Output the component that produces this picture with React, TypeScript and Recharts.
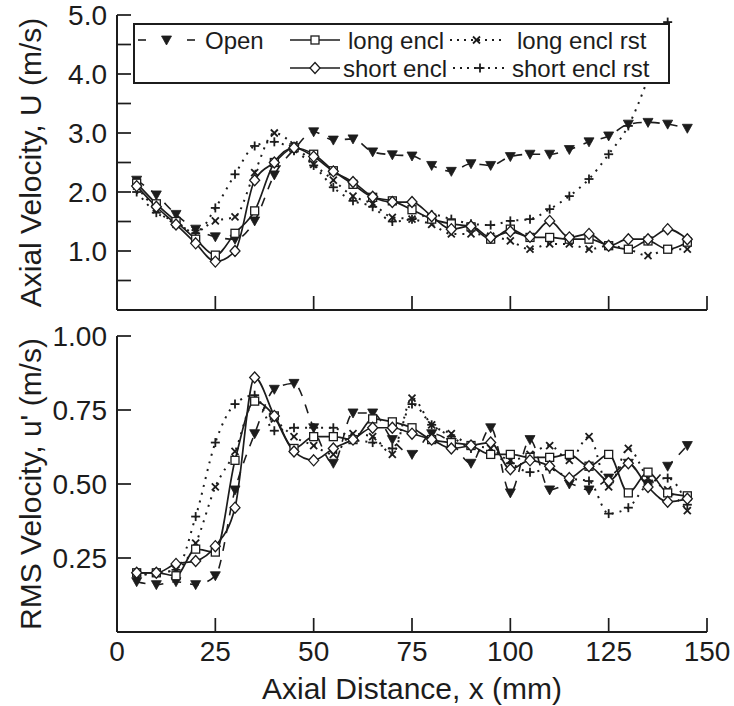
import React from 'react';
import { LineChart, Line, XAxis, YAxis, Legend } from 'recharts';

// ---------- data ----------
const xPositions = [5, 10, 15, 20, 25, 30, 35, 40, 45, 50, 55, 60, 65, 70, 75, 80, 85, 90, 95, 100, 105, 110, 115, 120, 125, 130, 135, 140, 145];

// Axial velocity U (m/s)
const openU = [2.2, 1.95, 1.62, 1.37, 1.24, 1.2, 1.51, 2.29, 2.72, 3.02, 2.88, 2.9, 2.68, 2.63, 2.61, 2.45, 2.35, 2.48, 2.45, 2.6, 2.64, 2.64, 2.72, 2.85, 2.95, 3.15, 3.18, 3.15, 3.08];
const longU = [2.15, 1.8, 1.5, 1.2, 0.93, 1.3, 1.68, 2.5, 2.75, 2.64, 2.36, 2.13, 1.91, 1.85, 1.7, 1.54, 1.46, 1.41, 1.2, 1.37, 1.23, 1.23, 1.2, 1.2, 1.09, 1.03, 1.17, 1.03, 1.15];
const shortU = [2.1, 1.75, 1.45, 1.13, 0.82, 1.0, 2.2, 2.5, 2.75, 2.6, 2.35, 2.17, 1.92, 1.83, 1.83, 1.59, 1.37, 1.42, 1.23, 1.33, 1.24, 1.51, 1.23, 1.29, 1.09, 1.2, 1.2, 1.37, 1.2];
const longRstU = [2.1, 1.7, 1.45, 1.35, 1.51, 1.58, 2.33, 3.0, 2.8, 2.47, 2.2, 1.93, 1.8, 1.57, 1.54, 1.45, 1.29, 1.29, 1.25, 1.17, 1.03, 1.12, 1.12, 1.03, 1.09, 1.03, 0.92, 1.03, 1.03];
const shortRstU = [2.0, 1.65, 1.5, 1.3, 1.73, 2.3, 2.78, 2.85, 2.7, 2.45, 2.08, 1.85, 1.75, 1.5, 1.54, 1.62, 1.54, 1.46, 1.44, 1.51, 1.54, 1.71, 1.93, 2.22, 2.64, 3.12, 3.92, 4.88, null];

// RMS velocity u' (m/s)
const openR = [0.17, 0.16, 0.17, 0.16, 0.19, 0.48, 0.67, 0.82, 0.84, 0.69, 0.57, 0.74, 0.74, 0.65, 0.6, 0.67, 0.64, 0.57, 0.69, 0.47, 0.65, 0.48, 0.5, 0.48, 0.52, 0.57, 0.5, 0.56, 0.63];
const longR = [0.2, 0.2, 0.19, 0.28, 0.27, 0.58, 0.78, 0.73, 0.62, 0.66, 0.66, 0.65, 0.72, 0.71, 0.69, 0.65, 0.64, 0.63, 0.6, 0.6, 0.59, 0.59, 0.6, 0.56, 0.6, 0.47, 0.54, 0.47, 0.46];
const shortR = [0.2, 0.2, 0.23, 0.24, 0.29, 0.42, 0.86, 0.73, 0.61, 0.58, 0.62, 0.65, 0.69, 0.69, 0.67, 0.65, 0.62, 0.63, 0.64, 0.55, 0.58, 0.56, 0.52, 0.56, 0.51, 0.57, 0.49, 0.44, 0.45];
const longRstR = [0.19, 0.2, 0.21, 0.3, 0.49, 0.61, 0.78, 0.72, 0.66, 0.63, 0.6, 0.67, 0.66, 0.6, 0.79, 0.7, 0.67, 0.63, 0.62, 0.58, 0.6, 0.63, 0.58, 0.66, 0.49, 0.62, 0.52, 0.48, 0.41];
const shortRstR = [0.19, 0.2, 0.21, 0.39, 0.64, 0.77, 0.8, 0.68, 0.69, 0.69, 0.69, 0.65, 0.64, 0.62, 0.77, 0.7, 0.66, 0.62, 0.6, 0.57, 0.54, 0.55, 0.52, 0.51, 0.4, 0.42, 0.5, 0.52, 0.43];

const xTicks = [0, 25, 50, 75, 100, 125, 150];
const uTicks = [0, 0.5, 1, 1.5, 2, 2.5, 3, 3.5, 4, 4.5, 5];
const rTicks = [0, 0.25, 0.5, 0.75, 1];

const seriesNames = { open: 'Open', long: 'long encl', longRst: 'long encl rst', short: 'short encl', shortRst: 'short encl rst' };

// ---------- build rows ----------
const topRows = xPositions.map((x, i) => ({ x, open: openU[i], long: longU[i], short: shortU[i], longRst: longRstU[i], shortRst: shortRstU[i] }));
const botRows = xPositions.map((x, i) => ({ x, open: openR[i], long: longR[i], short: shortR[i], longRst: longRstR[i], shortRst: shortRstR[i] }));

// ---------- styling ----------
const FONT = '"Liberation Sans", Arial, Helvetica, sans-serif';
const INK = '#1c1c1c';
const TICK_LEN = 14;
const TICK_W = 1.7;

type Shape = 'tri' | 'square' | 'diamond' | 'cross' | 'plus';

const Marker = ({ shape, cx, cy }: { shape: Shape; cx: number; cy: number }) => {
  switch (shape) {
    case 'tri':
      return <path d={`M${cx - 5},${cy - 4} L${cx + 5},${cy - 4} L${cx},${cy + 5} Z`} fill={INK} stroke={INK} strokeWidth={0.8} />;
    case 'square':
      return <rect x={cx - 4} y={cy - 4} width={8} height={8} fill="#fff" stroke={INK} strokeWidth={1.3} />;
    case 'diamond':
      return <path d={`M${cx},${cy - 5.5} L${cx + 5},${cy} L${cx},${cy + 5.5} L${cx - 5},${cy} Z`} fill="#fff" stroke={INK} strokeWidth={1.3} />;
    case 'cross':
      return (
        <g stroke={INK} strokeWidth={1.8}>
          <line x1={cx - 3.5} y1={cy - 3.5} x2={cx + 3.5} y2={cy + 3.5} />
          <line x1={cx - 3.5} y1={cy + 3.5} x2={cx + 3.5} y2={cy - 3.5} />
        </g>
      );
    case 'plus':
    default:
      return (
        <g stroke={INK} strokeWidth={1.8}>
          <line x1={cx - 4.5} y1={cy} x2={cx + 4.5} y2={cy} />
          <line x1={cx} y1={cy - 4.5} x2={cx} y2={cy + 4.5} />
        </g>
      );
  }
};

const seriesDefs: { key: string; shape: Shape; dash?: string; width: number }[] = [
  { key: 'open', shape: 'tri', dash: '9 9', width: 1.6 },
  { key: 'longRst', shape: 'cross', dash: '2 6', width: 2 },
  { key: 'shortRst', shape: 'plus', dash: '2 6', width: 2 },
  { key: 'long', shape: 'square', width: 1.7 },
  { key: 'short', shape: 'diamond', width: 1.7 },
];

const makeDot = (key: string, shape: Shape) => (p: any) => {
  if (p == null || p.cx == null || p.cy == null || p.value == null || (Array.isArray(p.value) && p.value[1] == null)) {
    return <g key={`${key}-e-${p?.index}`} />;
  }
  return (
    <g key={`${key}-${p.index}`}>
      <Marker shape={shape} cx={Number(p.cx)} cy={Number(p.cy)} />
    </g>
  );
};

const renderLines = () =>
  seriesDefs.map((s) => (
    <Line
      key={s.key}
      dataKey={s.key}
      name={(seriesNames as any)[s.key]}
      type="monotone"
      stroke={INK}
      strokeWidth={s.width}
      strokeDasharray={s.dash}
      dot={makeDot(s.key, s.shape)}
      activeDot={false}
      isAnimationActive={false}
      connectNulls={false}
    />
  ));

// ---------- custom ticks (inward tick marks + labels) ----------
const Y_GAP = 10;
const makeYTick = (fmt: (v: number) => string) => (props: any) => {
  const x = Number(props.x);
  const y = Number(props.y);
  const label = fmt(Number(props.payload?.value));
  return (
    <g>
      <rect x={x + Y_GAP} y={y - TICK_W / 2} width={TICK_LEN} height={TICK_W} fill={INK} />
      {label ? (
        <text x={x} y={y} textAnchor="end" dominantBaseline="central" fontFamily={FONT} fontSize={28} fill={INK} stroke="none">
          {label}
        </text>
      ) : null}
    </g>
  );
};

const X_GAP = 9;
const makeXTick = (showLabel: boolean, gap: number) => (props: any) => {
  const x = Number(props.x);
  const y = Number(props.y);
  return (
    <g>
      <rect x={x - TICK_W / 2} y={y - gap - TICK_LEN} width={TICK_W} height={TICK_LEN} fill={INK} />
      {showLabel ? (
        <text x={x} y={y} dy="0.72em" textAnchor="middle" fontFamily={FONT} fontSize={28} fill={INK} stroke="none">
          {String(props.payload?.value)}
        </text>
      ) : null}
    </g>
  );
};

// legend layout (pixel positions inside the legend box)
const legendItems: { key: string; shape: Shape; dash?: string; row: number; x0: number; x1: number; tx: number }[] = [
  { key: 'open', shape: 'tri', dash: 'open', row: 0, x0: 138, x1: 195, tx: 205 },
  { key: 'long', shape: 'square', row: 0, x0: 290, x1: 340, tx: 348 },
  { key: 'longRst', shape: 'cross', dash: '2 5', row: 0, x0: 450, x1: 503, tx: 517 },
  { key: 'short', shape: 'diamond', row: 1, x0: 290, x1: 340, tx: 343 },
  { key: 'shortRst', shape: 'plus', dash: '2 5', row: 1, x0: 453, x1: 507, tx: 512 },
];

const LegendBox = () => {
  const rowY = [40, 68];
  return (
    <svg width={734} height={100} style={{ position: 'absolute', left: 0, top: 0, overflow: 'visible' }}>
      <rect x={134} y={24} width={535} height={59} fill="#fff" stroke={INK} strokeWidth={2} />
      {legendItems.map((it) => {
        const y = rowY[it.row];
        const cx = (it.x0 + it.x1) / 2;
        return (
          <g key={it.key}>
            {it.dash === 'open' ? (
              <g stroke={INK} strokeWidth={1.6}>
                <line x1={it.x0} y1={y} x2={it.x0 + 8} y2={y} />
                <line x1={it.x1 - 8} y1={y} x2={it.x1} y2={y} />
              </g>
            ) : (
              <line x1={it.x0} y1={y} x2={it.x1} y2={y} stroke={INK} strokeWidth={it.dash ? 2 : 1.6} strokeDasharray={it.dash} />
            )}
            <Marker shape={it.shape} cx={cx} cy={y} />
            <text x={it.tx} y={y} dominantBaseline="central" fontFamily={FONT} fontSize={24} fill={INK}>
              {(seriesNames as any)[it.key]}
            </text>
          </g>
        );
      })}
    </svg>
  );
};

const yTitle = (text: string) => (props: any) => {
  const vb = props.viewBox || {};
  const cx = Number(vb.x ?? 0) + 30;
  const cy = Number(vb.y ?? 0) + Number(vb.height ?? 0) / 2;
  return (
    <text x={cx} y={cy} transform={`rotate(-90 ${cx} ${cy})`} textAnchor="middle" dominantBaseline="central" fontFamily={FONT} fontSize={30} fill={INK}>
      {text}
    </text>
  );
};

const xTitle = (text: string) => (props: any) => {
  const vb = props.viewBox || {};
  const cx = Number(vb.x ?? 0) + Number(vb.width ?? 0) / 2;
  const cy = Number(vb.y ?? 0) + 56;
  return (
    <text x={cx} y={cy} textAnchor="middle" dominantBaseline="central" fontFamily={FONT} fontSize={30} fill={INK}>
      {text}
    </text>
  );
};

const axisLineStyle = { stroke: INK, strokeWidth: 2 };
const fmtU = (v: number) => (Number.isInteger(v) && v > 0 ? v.toFixed(1) : '');
const fmtR = (v: number) => (v > 0 ? v.toFixed(2) : '');

export default function App() {
  return (
    <div style={{ position: 'absolute', left: 0, top: 0, width: 734, height: 706, background: '#fff', fontFamily: FONT }}>
      <div style={{ position: 'absolute', left: 0, top: 0 }}>
        <LineChart width={734} height={322} data={topRows} margin={{ top: 15, right: 27, bottom: 11, left: 0 }}>
          <XAxis
            dataKey="x"
            type="number"
            domain={[0, 150]}
            ticks={xTicks}
            interval={0}
            height={1}
            tickSize={0}
            tickMargin={0}
            tick={makeXTick(false, 0)}
            axisLine={axisLineStyle}
            tickLine={false}
            allowDataOverflow
          />
          <XAxis xAxisId="frameTop" orientation="top" type="number" domain={[0, 150]} height={0} tick={false} tickLine={false} axisLine={axisLineStyle} />
          <YAxis
            type="number"
            domain={[0, 5]}
            ticks={uTicks}
            interval={0}
            width={117}
            tickSize={0}
            tickMargin={Y_GAP}
            tick={makeYTick(fmtU)}
            axisLine={axisLineStyle}
            tickLine={false}
            allowDataOverflow
            label={yTitle('Axial Velocity, U (m/s)')}
          />
          <YAxis yAxisId="frameRight" orientation="right" type="number" domain={[0, 5]} width={0} tick={false} tickLine={false} axisLine={axisLineStyle} />
          {renderLines()}
          <Legend
            layout="vertical"
            align="center"
            verticalAlign="middle"
            content={() => <LegendBox />}
            wrapperStyle={{ left: 0, top: 0, width: 734, height: 100, pointerEvents: 'none' }}
          />
        </LineChart>
      </div>
      <div style={{ position: 'absolute', left: 0, top: 322 }}>
        <LineChart width={734} height={384} data={botRows} margin={{ top: 14, right: 27, bottom: 0, left: 0 }}>
          <XAxis
            dataKey="x"
            type="number"
            domain={[0, 150]}
            ticks={xTicks}
            interval={0}
            height={74}
            tickSize={0}
            tickMargin={X_GAP}
            tick={makeXTick(true, X_GAP)}
            axisLine={axisLineStyle}
            tickLine={false}
            allowDataOverflow
            label={xTitle('Axial Distance, x (mm)')}
          />
          <XAxis xAxisId="frameTop" orientation="top" type="number" domain={[0, 150]} height={0} tick={false} tickLine={false} axisLine={axisLineStyle} />
          <YAxis
            type="number"
            domain={[0, 1]}
            ticks={rTicks}
            interval={0}
            width={117}
            tickSize={0}
            tickMargin={Y_GAP}
            tick={makeYTick(fmtR)}
            axisLine={axisLineStyle}
            tickLine={false}
            allowDataOverflow
            label={yTitle("RMS Velocity, u' (m/s)")}
          />
          <YAxis yAxisId="frameRight" orientation="right" type="number" domain={[0, 1]} width={0} tick={false} tickLine={false} axisLine={axisLineStyle} />
          {renderLines()}
        </LineChart>
      </div>
    </div>
  );
}
